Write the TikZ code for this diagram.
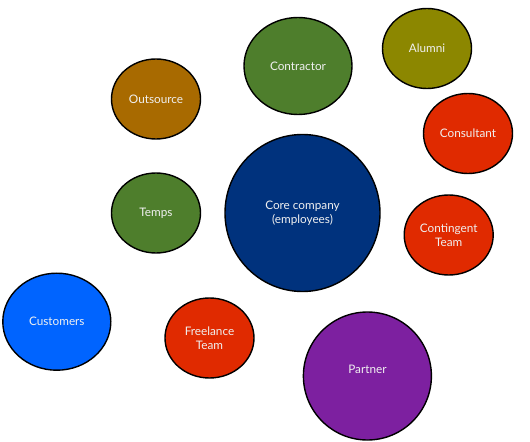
\documentclass[tikz,border=0pt]{standalone}
\usepackage{fontspec}
\setmainfont{Lato}
\usetikzlibrary{shapes.geometric}
\definecolor{cgreen}{RGB}{78,126,44}
\definecolor{colive}{RGB}{140,135,0}
\definecolor{corange}{RGB}{168,106,0}
\definecolor{cred}{RGB}{224,42,0}
\definecolor{cnavy}{RGB}{0,50,125}
\definecolor{cblue}{RGB}{0,100,255}
\definecolor{cpurple}{RGB}{125,32,160}
\definecolor{ctext}{RGB}{240,240,240}
\tikzset{
  bubble/.style={ellipse, draw=black, line width=1.4bp, inner sep=0pt,
    text=ctext, align=center, font=\fontsize{11.8}{14}\selectfont},
  small/.style={bubble, minimum width=89bp, minimum height=80bp},
  medium/.style={bubble, minimum width=108bp, minimum height=97bp}
}
\begin{document}
\begin{tikzpicture}[x=1bp,y=-1bp]
\useasboundingbox (0,0) rectangle (530,442);
\node[medium, fill=cgreen] (contractor) at (298,66) {Contractor};
\node[small, fill=colive] (alumni) at (427,48.5) {Alumni};
\node[small, fill=corange] (outsource) at (156,99) {Outsource};
\node[small, fill=cred] (consultant) at (468,133.5) {Consultant};
\node[bubble, fill=cnavy, minimum width=155bp, minimum height=157bp] (core) at (302.5,213) {Core company\\(employees)};
\node[small, fill=cgreen] (temps) at (156,213) {Temps};
\node[small, fill=cred] (contingent) at (448.7,235) {Contingent\\Team};
\node[medium, fill=cblue] (customers) at (56.8,321.7) {Customers};
\node[small, fill=cred] (freelance) at (209.5,338) {Freelance\\Team};
\node[bubble, fill=cpurple, minimum width=128bp, minimum height=128bp] (partner) at (367.4,376) {Partner\\[0pt]};
\end{tikzpicture}
\end{document}
